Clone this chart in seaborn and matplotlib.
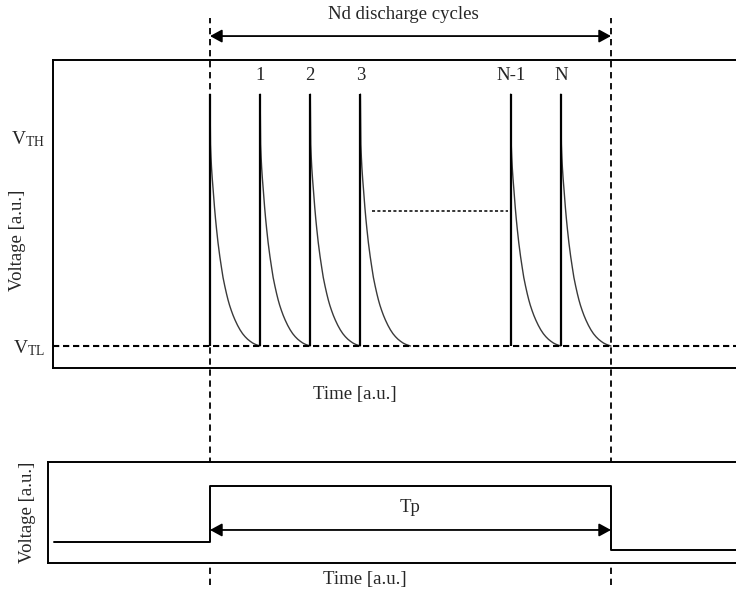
import numpy as np
import pandas as pd
import matplotlib
matplotlib.use("Agg")
import matplotlib.pyplot as plt
import seaborn as sns

# ---------------- data ----------------
pulse_starts = [0, 1, 2, 3, 6, 7]          # time of each discharge spike [a.u.]
label_times = [1, 2, 3, 6, 7]
label_texts = ["1", "2", "3", "N-1", "N"]
spike_peak = 1.0
v_th = 0.83
v_tl = 0.0
# decay profile of one discharge (fraction of cycle, voltage)
decay_frac = [0.0, 0.01, 0.02, 0.03, 0.045, 0.065, 0.09, 0.11, 0.13, 0.16,
              0.196, 0.23, 0.26, 0.295, 0.33, 0.36, 0.39, 0.425, 0.46, 0.5,
              0.55, 0.6, 0.65, 0.7, 0.75, 0.8, 0.85, 0.9, 0.95, 1.0]
decay_volt = [1.0, 0.80, 0.75, 0.71, 0.665, 0.615, 0.55, 0.505, 0.465, 0.41,
              0.355, 0.31, 0.272, 0.238, 0.207, 0.183, 0.162, 0.141, 0.122, 0.103,
              0.082, 0.064, 0.049, 0.037, 0.027, 0.019, 0.012, 0.007, 0.003, 0.0]
gap_level = 0.536
gap_start, gap_end = 3.23, 5.95
window_start, window_end = 0, 8
gate_times = [-3.11, 0, 0, 8, 8, 10.494]
gate_levels = [0.208, 0.208, 0.762, 0.762, 0.129, 0.129]

# ---------------- style ----------------
sns.set_theme(style="white")
plt.rcParams["font.family"] = ["Liberation Serif", "DejaVu Serif"]
plt.rcParams["mathtext.fontset"] = "custom"
plt.rcParams["mathtext.rm"] = "Liberation Serif"
plt.rcParams["mathtext.it"] = "Liberation Serif:italic"
FS = 13.5

fig = plt.figure(figsize=(7.36, 5.94), dpi=100)
ax1 = fig.add_axes([53 / 736, (594 - 368) / 594, 683 / 736, 308 / 594])
ax2 = fig.add_axes([48 / 736, (594 - 563) / 594, 688 / 736, 101 / 594])

XR = 10.494
ax1.set_xlim(-3.132, XR)
ax1.set_ylim(-0.0873, 1.135)
ax2.set_xlim(-3.232, XR)
ax2.set_ylim(0, 1)

for ax in (ax1, ax2):
    for s in ("top", "left", "bottom"):
        ax.spines[s].set_color("black")
        ax.spines[s].set_linewidth(1.4)
    ax.spines["right"].set_visible(False)
    ax.set_xticks([])
    ax.tick_params(length=0)

ARROW = "<|-|>,head_length=0.55,head_width=0.3"

# ---- top panel ----
rows = []
for i, p in enumerate(pulse_starts):
    for f, v in zip(decay_frac, decay_volt):
        rows.append({"time": p + f, "volt": v, "cycle": i})
df = pd.DataFrame(rows)
sns.lineplot(data=df, x="time", y="volt", units="cycle", estimator=None,
             sort=False, color="#3a3a3a", linewidth=1.0, ax=ax1, legend=False)
ax1.vlines(pulse_starts, v_tl, spike_peak, color="black", linewidth=1.6, zorder=3)
ax1.plot([-3.132, XR], [v_tl, v_tl], color="black", linewidth=1.5,
         dashes=(3.0, 1.8), zorder=2)
ax1.plot([gap_start, gap_end], [gap_level, gap_level], color="black",
         linewidth=1.1, dashes=(2, 1.5))
for t, s in zip(label_times, label_texts):
    ax1.text(t, 1.075, s, ha="center", va="center", fontsize=FS)

# window dashed verticals spanning both panels
for t in (window_start, window_end):
    ax1.plot([t, t], [-0.948, 1.30], color="black", linewidth=1.3,
             dashes=(3.5, 2.6), clip_on=False, zorder=4)

ax1.annotate("", xy=(window_start, 1.23), xytext=(window_end, 1.23),
             arrowprops=dict(arrowstyle=ARROW, color="black", lw=1.3,
                             shrinkA=0, shrinkB=0, mutation_scale=13),
             annotation_clip=False)
ax1.text(3.85, 1.317, "Nd discharge cycles", ha="center", va="center",
         fontsize=FS, clip_on=False)

ax1.set_yticks([v_tl, v_th])
ax1.set_yticklabels([r"$\mathrm{V_{TL}}$", r"$\mathrm{V_{TH}}$"], fontsize=14)
ax1.tick_params(axis="y", pad=6)
ax1.set_xlabel("")
ax1.set_ylabel("")
ax1.text(2.89, -0.194, "Time [a.u.]", ha="center", va="center", fontsize=FS,
         clip_on=False)
ax1.text(-3.85, 0.42, "Voltage [a.u.]", ha="center", va="center",
         rotation=90, fontsize=FS, clip_on=False)

# ---- bottom panel ----
gate = pd.DataFrame({"time": gate_times, "volt": gate_levels})
sns.lineplot(data=gate, x="time", y="volt", sort=False, estimator=None,
             color="black", linewidth=1.4, ax=ax2, legend=False)
ax2.annotate("", xy=(window_start, 0.327), xytext=(window_end, 0.327),
             arrowprops=dict(arrowstyle=ARROW, color="black", lw=1.3,
                             shrinkA=0, shrinkB=0, mutation_scale=13))
ax2.text(4.0, 0.545, "Tp", ha="center", va="center", fontsize=FS)
ax2.set_yticks([])
ax2.set_xlabel("")
ax2.set_ylabel("")
ax2.text(3.09, -0.168, "Time [a.u.]", ha="center", va="center", fontsize=FS,
         clip_on=False)
ax2.text(-3.65, 0.5, "Voltage [a.u.]", ha="center", va="center",
         rotation=90, fontsize=FS, clip_on=False)

fig.savefig("out.png", dpi=100)
